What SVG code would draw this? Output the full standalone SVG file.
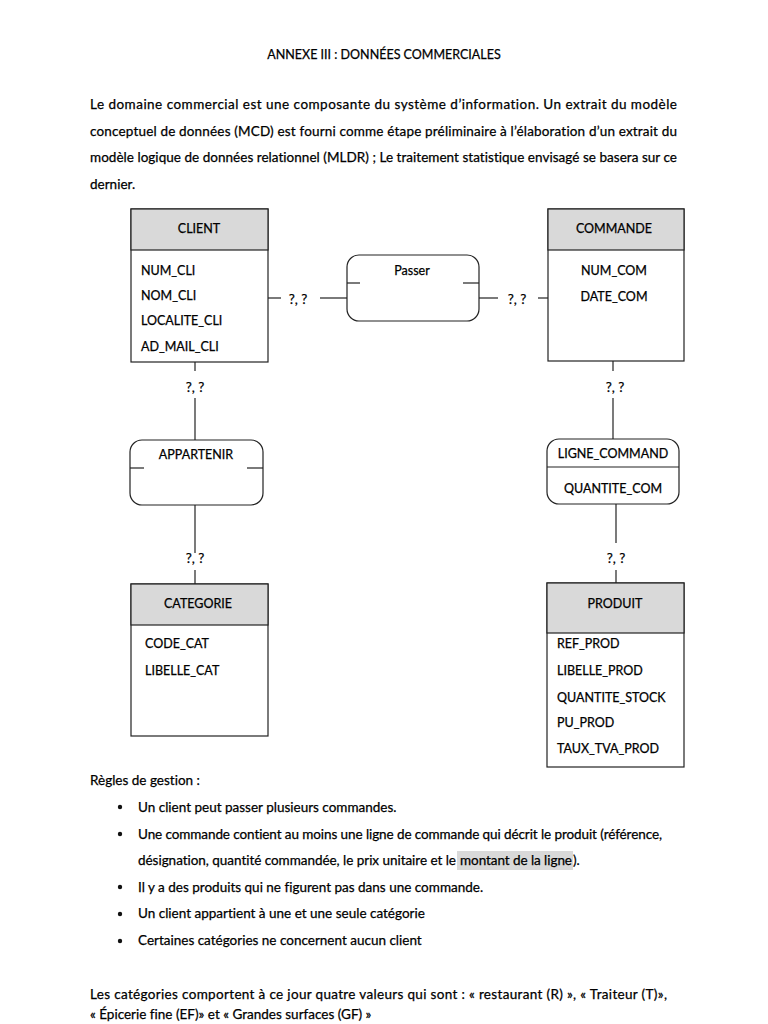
<svg xmlns="http://www.w3.org/2000/svg" width="768" height="1024" viewBox="0 0 768 1024">
<style>
text{font-family:Lato,"Open Sans","Liberation Sans",sans-serif;fill:#000;stroke:#000;stroke-width:0.25;font-variant-ligatures:none;}
.b{font-size:13.5px;}
.t{font-size:12.5px;}
.l{font-size:12.5px;}
.q{font-size:13.5px;}
.c{text-anchor:middle;}
.box{fill:#fff;stroke:#222;stroke-width:1.2;}
.hd{fill:#d9d9d9;stroke:#222;stroke-width:1.2;}
.ln{stroke:#222;stroke-width:1.2;fill:none;}
</style>
<rect width="768" height="1024" fill="#fff"/>
<text class="t c" x="384" y="59">ANNEXE III : DONNÉES COMMERCIALES</text>
<g id="intro">
<text class="b" x="90" y="109" textLength="587" lengthAdjust="spacing">Le domaine commercial est une composante du système d’information. Un extrait du modèle</text>
<text class="b" x="90" y="136" textLength="587" lengthAdjust="spacing">conceptuel de données (MCD) est fourni comme étape préliminaire à l’élaboration d’un extrait du</text>
<text class="b" x="90" y="162" textLength="587" lengthAdjust="spacing">modèle logique de données relationnel (MLDR) ; Le traitement statistique envisagé se basera sur ce</text>
<text class="b" x="90" y="189">dernier.</text>
</g>
<g id="connectors">
<line class="ln" x1="268" y1="298" x2="281" y2="298"/>
<line class="ln" x1="320" y1="298" x2="347" y2="298"/>
<line class="ln" x1="479" y1="298" x2="498" y2="298"/>
<line class="ln" x1="538" y1="298" x2="548" y2="298"/>
<line class="ln" x1="195" y1="362" x2="195" y2="371"/>
<line class="ln" x1="195" y1="398" x2="195" y2="440"/>
<line class="ln" x1="195" y1="505" x2="195" y2="553"/>
<line class="ln" x1="195" y1="570" x2="195" y2="584"/>
<line class="ln" x1="613" y1="361" x2="613" y2="371"/>
<line class="ln" x1="613" y1="398" x2="613" y2="439"/>
<line class="ln" x1="616" y1="504" x2="616" y2="543"/>
<line class="ln" x1="616" y1="570" x2="616" y2="583"/>
<text class="q c" x="298" y="304">?, ?</text>
<text class="q c" x="517" y="304">?, ?</text>
<text class="q c" x="195" y="392">?, ?</text>
<text class="q c" x="195" y="563">?, ?</text>
<text class="q c" x="615" y="392">?, ?</text>
<text class="q c" x="616" y="563">?, ?</text>
</g>
<g id="client">
<rect class="box" x="131" y="209" width="137" height="153"/>
<rect class="hd" x="131" y="209" width="137" height="41"/>
<text class="l c" x="199" y="233">CLIENT</text>
<text class="l" x="141" y="275">NUM_CLI</text>
<text class="l" x="141" y="300">NOM_CLI</text>
<text class="l" x="141" y="325">LOCALITE_CLI</text>
<text class="l" x="141" y="351">AD_MAIL_CLI</text>
</g>
<g id="passer">
<rect class="box" x="347" y="255" width="132" height="66" rx="12"/>
<line class="ln" x1="347" y1="283" x2="360" y2="283"/>
<line class="ln" x1="463" y1="283" x2="479" y2="283"/>
<text class="l c" x="412" y="275">Passer</text>
</g>
<g id="commande">
<rect class="box" x="548" y="209" width="136" height="152"/>
<rect class="hd" x="548" y="209" width="136" height="41"/>
<text class="l c" x="614" y="233">COMMANDE</text>
<text class="l c" x="614" y="275">NUM_COM</text>
<text class="l c" x="614" y="301">DATE_COM</text>
</g>
<g id="appartenir">
<rect class="box" x="130" y="440" width="133" height="65" rx="12"/>
<line class="ln" x1="130" y1="468" x2="144" y2="468"/>
<line class="ln" x1="247" y1="468" x2="263" y2="468"/>
<text class="l c" x="196" y="459">APPARTENIR</text>
</g>
<g id="ligne_command">
<rect class="box" x="547" y="439" width="132" height="65" rx="12"/>
<line class="ln" x1="547" y1="467" x2="679" y2="467"/>
<text class="l c" x="613" y="458">LIGNE_COMMAND</text>
<text class="l c" x="613" y="493">QUANTITE_COM</text>
</g>
<g id="categorie">
<rect class="box" x="131" y="584" width="137" height="152"/>
<rect class="hd" x="131" y="584" width="137" height="41"/>
<text class="l c" x="198" y="608">CATEGORIE</text>
<text class="l" x="145" y="648">CODE_CAT</text>
<text class="l" x="145" y="675">LIBELLE_CAT</text>
</g>
<g id="produit">
<rect class="box" x="547" y="583" width="137" height="184"/>
<rect class="hd" x="547" y="583" width="137" height="50"/>
<text class="l c" x="615" y="608">PRODUIT</text>
<text class="l" x="557" y="648">REF_PROD</text>
<text class="l" x="557" y="675">LIBELLE_PROD</text>
<text class="l" x="557" y="702">QUANTITE_STOCK</text>
<text class="l" x="557" y="727">PU_PROD</text>
<text class="l" x="557" y="753">TAUX_TVA_PROD</text>
</g>
<g id="regles">
<text class="b" x="90" y="785">Règles de gestion :</text>
<circle cx="120" cy="807" r="2.2" fill="#111"/>
<circle cx="120" cy="834" r="2.2" fill="#111"/>
<circle cx="120" cy="887" r="2.2" fill="#111"/>
<circle cx="120" cy="914" r="2.2" fill="#111"/>
<circle cx="120" cy="941" r="2.2" fill="#111"/>
<text class="b" x="138" y="812">Un client peut passer plusieurs commandes.</text>
<text class="b" x="138" y="839" textLength="524" lengthAdjust="spacing">Une commande contient au moins une ligne de commande qui décrit le produit (référence,</text>
<rect x="457" y="851" width="116" height="19" fill="#d9d9d9"/>
<text class="b" x="138" y="865" textLength="318" lengthAdjust="spacing">désignation, quantité commandée, le prix unitaire et le</text>
<text class="b" x="460" y="865" textLength="112" lengthAdjust="spacing">montant de la ligne</text>
<text class="b" x="573" y="865">).</text>
<text class="b" x="138" y="892">Il y a des produits qui ne figurent pas dans une commande.</text>
<text class="b" x="138" y="918">Un client appartient à une et une seule catégorie</text>
<text class="b" x="138" y="945">Certaines catégories ne concernent aucun client</text>
</g>
<g id="valeurs">
<text class="b" x="90" y="999" textLength="577" lengthAdjust="spacing">Les catégories comportent à ce jour quatre valeurs qui sont : « restaurant (R) », « Traiteur  (T)»,</text>
<text class="b" x="90" y="1019">« Épicerie fine (EF)» et « Grandes surfaces (GF) »</text>
</g>
</svg>
